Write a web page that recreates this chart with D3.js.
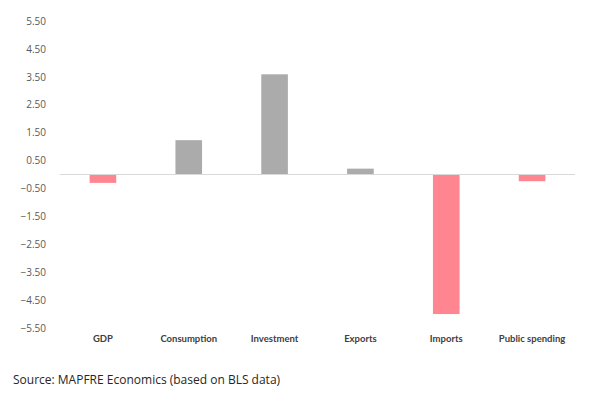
<!DOCTYPE html>
<html>
<head>
<meta charset="utf-8">
<script src="https://d3js.org/d3.v7.min.js"></script>
<style>
  body { margin: 0; background: #fff; font-family: "Open Sans", "DejaVu Sans", sans-serif; }
  svg { display: block; }
</style>
</head>
<body>
<svg width="593" height="393"></svg>
<script>
var categories = ["GDP", "Consumption", "Investment", "Exports", "Imports", "Public spending"];
var values = [-0.30, 1.23, 3.59, 0.21, -5.00, -0.24];
var tickValues = [5.5, 4.5, 3.5, 2.5, 1.5, 0.5, -0.5, -1.5, -2.5, -3.5, -4.5, -5.5];

var svg = d3.select("svg");
var margin = { left: 60, right: 18, top: 21, bottom: 65 };
var plotBottom = 328;

var x = d3.scaleBand()
    .domain(categories)
    .range([margin.left, 575])
    .paddingInner(0.69)
    .paddingOuter(0.345);

var y = d3.scaleLinear()
    .domain([-5.5, 5.5])
    .range([plotBottom, margin.top]);

// y labels (no axis line)
var yAxis = svg.append("g")
    .attr("transform", "translate(46,0)")
    .call(d3.axisLeft(y).tickValues(tickValues).tickSize(0).tickPadding(0)
      .tickFormat(function(d) { return d3.format(".2f")(d); }));
yAxis.select(".domain").remove();
yAxis.selectAll("text")
    .attr("fill", "#595959")
    .style("font-size", "10px")
    .style("font-family", "'Open Sans', sans-serif");

// bars
svg.selectAll("rect.bar")
    .data(values)
    .enter().append("rect")
    .attr("class", "bar")
    .attr("x", function(d, i) { return x(categories[i]); })
    .attr("width", x.bandwidth())
    .attr("y", function(d) { return y(Math.max(0, d)); })
    .attr("height", function(d) { return Math.abs(y(d) - y(0)); })
    .attr("fill", function(d) { return d < 0 ? "#ff8590" : "#ababab"; });

// zero line
svg.append("line")
    .attr("x1", margin.left).attr("x2", 575)
    .attr("y1", y(0)).attr("y2", y(0))
    .attr("stroke", "#d9d9d9")
    .attr("stroke-width", 1);

// category labels
svg.selectAll("text.cat")
    .data(categories)
    .enter().append("text")
    .attr("class", "cat")
    .attr("x", function(d) { return x(d) + x.bandwidth() / 2; })
    .attr("y", 342)
    .attr("text-anchor", "middle")
    .attr("fill", "#404040")
    .style("font-family", "Lato, 'Open Sans', sans-serif")
    .style("font-size", "9.5px")
    .style("font-weight", "bold")
    .text(function(d) { return d; });

svg.append("text")
    .attr("x", 13)
    .attr("y", 384)
    .attr("fill", "#262626")
    .style("font-size", "12px")
    .text("Source: MAPFRE Economics (based on BLS data)");
</script>
</body>
</html>
